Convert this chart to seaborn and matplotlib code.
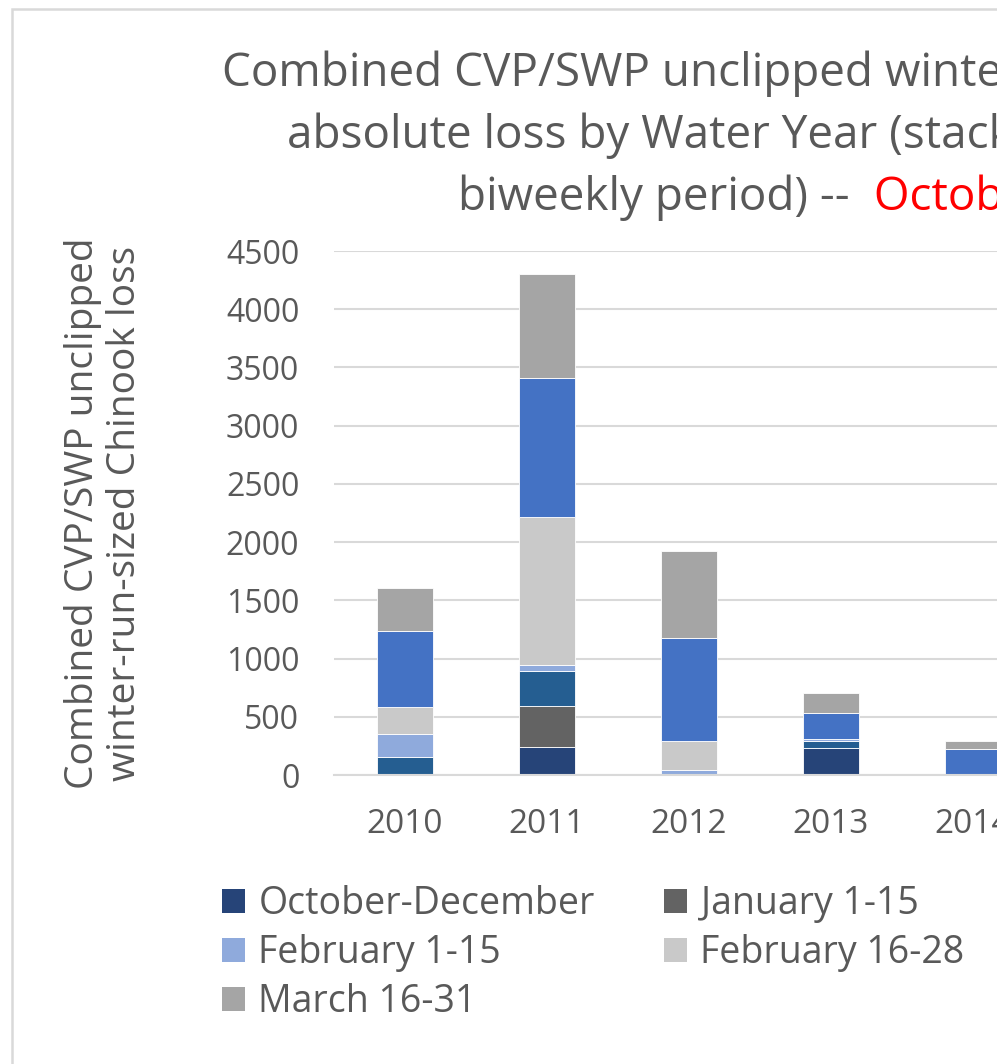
import pandas as pd
import matplotlib.pyplot as plt
import seaborn as sns
from matplotlib.patches import Patch, Rectangle

# water years visible in the chart
years = ['2010', '2011', '2012', '2013', '2014']
# biweekly periods, bottom of the stack first
periods = ['October-December', 'January 1-15', 'January 16-31', 'February 1-15',
           'February 16-28', 'March 1-15', 'March 16-31']
colors = ['#264478', '#636363', '#255E91', '#8FAADC', '#C9C9C9', '#4472C4', '#A5A5A5']

# loss per period, one list per period (values follow years)
oct_dec = [0, 238, 0, 229, 0]
jan_1_15 = [0, 355, 0, 0, 0]
jan_16_31 = [157, 296, 0, 66, 0]
feb_1_15 = [195, 52, 46, 12, 0]
feb_16_28 = [230, 1278, 243, 0, 0]
mar_1_15 = [657, 1191, 886, 223, 221]
mar_16_31 = [371, 895, 745, 175, 74]

y_ticks = [0, 500, 1000, 1500, 2000, 2500, 3000, 3500, 4000, 4500]

series = [oct_dec, jan_1_15, jan_16_31, feb_1_15, feb_16_28, mar_1_15, mar_16_31]
rows = []
for name, vals in zip(periods, series):
    for i, v in enumerate(vals):
        rows.append({'pos': i, 'period': name, 'loss': v})
df = pd.DataFrame(rows)

sns.set_theme(style='white')
plt.rcParams['font.family'] = ['Open Sans', 'DejaVu Sans']
txt = '#595959'

fig = plt.figure(figsize=(9.97, 10.64), dpi=100)
# axes run past the right edge, the reference is a cropped screenshot
ax = fig.add_axes([334 / 997, 1 - 775 / 1064, 1420 / 997, 524 / 1064])

sns.histplot(data=df, x='pos', hue='period', weights='loss', multiple='stack',
             discrete=True, shrink=0.4, hue_order=periods[::-1],
             palette=dict(zip(periods, colors)), alpha=1, edgecolor='white',
             linewidth=0.6, legend=False, ax=ax)

ax.set_xlim(-0.5, 9.5)
ax.set_ylim(0, 4500)
ax.set_yticks(y_ticks)
ax.set_xticks(range(len(years)))
ax.set_xticklabels(years)
ax.set_xlabel('')
ax.set_ylabel('')
ax.grid(axis='y', color='#D9D9D9', linewidth=1.5)
ax.set_axisbelow(True)
for s in ['top', 'right', 'left']:
    ax.spines[s].set_visible(False)
ax.spines['bottom'].set_color('#D9D9D9')
ax.spines['bottom'].set_linewidth(1.5)
ax.tick_params(axis='y', length=0, pad=25, labelsize=23, labelcolor=txt)
ax.tick_params(axis='x', length=0, pad=24, labelsize=24, labelcolor=txt)

# y label, two lines
fig.text(104 / 997, 1 - 513 / 1064,
         'Combined CVP/SWP unclipped\nwinter-run-sized Chinook loss',
         rotation=90, ha='center', va='center', multialignment='center',
         fontsize=28, color=txt, linespacing=1.15)

# title, drawn line by line so the last line can carry the red part
tsize = 33
fig.text(222 / 997, 1 - 86 / 1064,
         'Combined CVP/SWP unclipped winter-run-sized Chinook',
         fontsize=tsize, color=txt, va='baseline', ha='left')
fig.text(287 / 997, 1 - 148 / 1064, 'absolute loss by Water Year (stacked by',
         fontsize=tsize, color=txt, va='baseline', ha='left')
t3 = fig.text(458 / 997, 1 - 210 / 1064, 'biweekly period) -- ',
              fontsize=tsize, color=txt, va='baseline', ha='left')
ax.annotate(' October-March', xy=(1, 0), xycoords=t3, va='bottom', ha='left',
            fontsize=tsize, color='red', annotation_clip=False)

# legend, three columns, third one falls off the right edge
order = [0, 3, 6, 1, 4, 2, 5]
handles = [Patch(facecolor=colors[i], edgecolor='none') for i in order]
labels = [periods[i] for i in order]
fig.legend(handles, labels, loc='upper left', bbox_to_anchor=(222 / 997, 1 - 885 / 1064),
           ncol=3, frameon=False, fontsize=27, labelcolor=txt,
           handlelength=0.62, handleheight=0.62, handletextpad=0.35,
           columnspacing=1.85, labelspacing=0.3, borderpad=0, borderaxespad=0)

# light chart border (only top and left are inside the crop)
fig.patches.append(Rectangle((11.5 / 997, -0.2), 1.5, 1.2 - 8.5 / 1064,
                             transform=fig.transFigure, fill=False,
                             edgecolor='#D9D9D9', linewidth=1.8, clip_on=False))

fig.savefig('out.png', dpi=100)
